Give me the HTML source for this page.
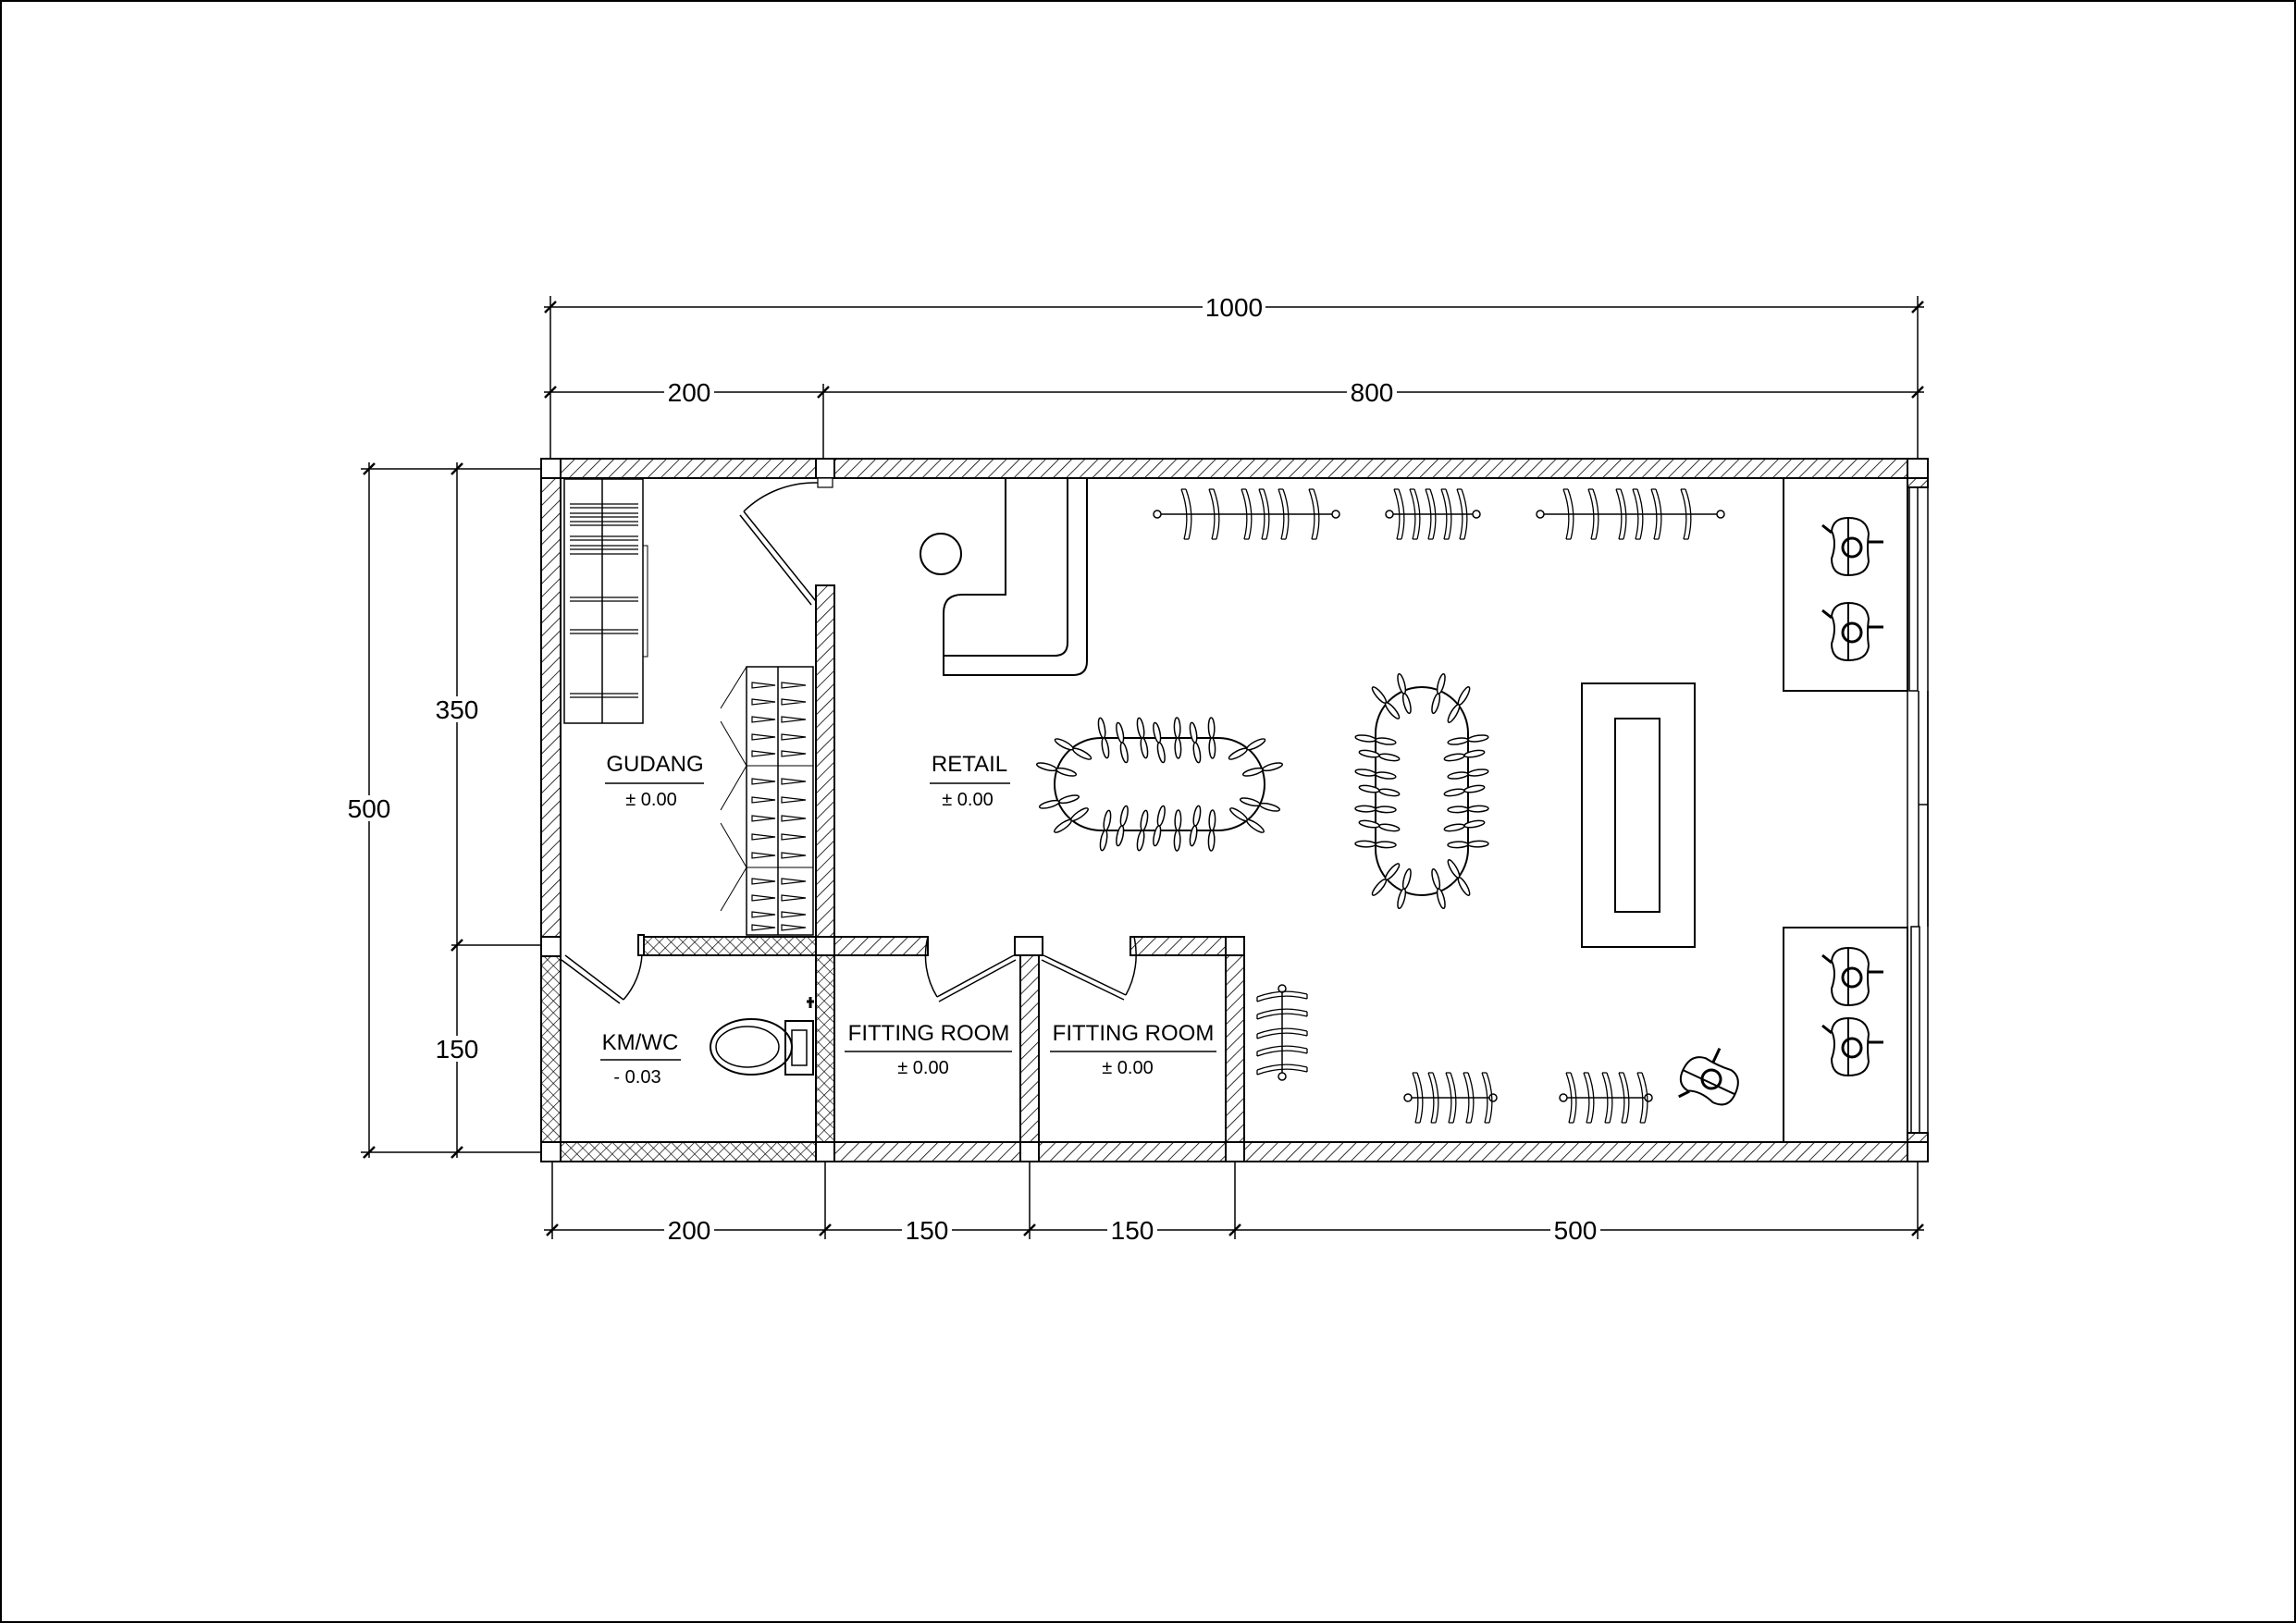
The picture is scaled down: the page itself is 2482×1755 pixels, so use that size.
<!DOCTYPE html>
<html><head><meta charset="utf-8"><style>
html,body{margin:0;padding:0;background:#fff}
svg{display:block}
text{font-family:"Liberation Sans",sans-serif;fill:#000}
</style></head><body>
<svg width="2482" height="1755" viewBox="0 0 2482 1755" xmlns="http://www.w3.org/2000/svg">
<defs>
<pattern id="hat" width="10" height="10" patternUnits="userSpaceOnUse" patternTransform="rotate(45)">
<rect width="10" height="10" fill="#fff"/><line x1="0" y1="0" x2="0" y2="10" stroke="#000" stroke-width="1.6"/></pattern>
<pattern id="cross" width="9" height="9" patternUnits="userSpaceOnUse" patternTransform="rotate(45)">
<rect width="9" height="9" fill="#fff"/><line x1="0" y1="0" x2="0" y2="9" stroke="#000" stroke-width="1.3"/><line x1="0" y1="0" x2="9" y2="0" stroke="#000" stroke-width="1.3"/></pattern>
<g id="hg" fill="none" stroke="#000" stroke-width="1.3"><path d="M-5,-27 Q5,0 -2,27 M0,-27 Q10,0 3,27 M-5,-27 H0 M-2,27 H3"/></g>
<g id="pt" fill="#fff" stroke="#000" stroke-width="1.5"><ellipse cx="-11" cy="0" rx="11" ry="3.2"/><ellipse cx="11" cy="0" rx="11" ry="3.2"/></g>
<g id="mq" fill="none" stroke="#000" stroke-width="2"><path d="M-4,-32 Q16,-32 18,-15 Q16,0 18,15 Q16,30 -4,30 Q-22,30 -22,12 Q-16,-5 -22,-18 Q-20,-32 -4,-32Z"/><circle cx="0" cy="0" r="10" stroke-width="3"/><line x1="-4" y1="-32" x2="-4" y2="30"/><line x1="-32" y1="-24" x2="-22" y2="-16" stroke-width="3"/><line x1="18" y1="-6" x2="34" y2="-6" stroke-width="3"/></g>
</defs>
<rect x="1" y="1" width="2480" height="1753" fill="none" stroke="#000" stroke-width="2"/>

<g stroke="#000" stroke-width="1.5" fill="none">
<line x1="588" y1="332" x2="2080" y2="332"/>
<line x1="588" y1="424" x2="2080" y2="424"/>
<line x1="588" y1="1330" x2="2080" y2="1330"/>
<line x1="399" y1="500" x2="399" y2="1252"/>
<line x1="494" y1="500" x2="494" y2="1252"/>
<line x1="595" y1="320" x2="595" y2="507"/><line x1="890" y1="415" x2="890" y2="507"/><line x1="2073" y1="320" x2="2073" y2="507"/>
<line x1="597" y1="1246" x2="597" y2="1340"/><line x1="892" y1="1246" x2="892" y2="1340"/><line x1="1113" y1="1246" x2="1113" y2="1340"/><line x1="1335" y1="1246" x2="1335" y2="1340"/><line x1="2073" y1="1246" x2="2073" y2="1340"/>
<line x1="390" y1="507" x2="597" y2="507"/><line x1="488" y1="1022" x2="597" y2="1022"/><line x1="390" y1="1246" x2="597" y2="1246"/>
<g stroke-width="2.5">
<path d="M589,338 L601,326 M884,430 L896,418 M2067,338 L2079,326 M589,430 L601,418 M2067,430 L2079,418"/>
<path d="M591,1336 L603,1324 M886,1336 L898,1324 M1107,1336 L1119,1324 M1329,1336 L1341,1324 M2067,1336 L2079,1324"/>
<path d="M393,513 L405,501 M393,1252 L405,1240 M488,513 L500,501 M488,1028 L500,1016 M488,1252 L500,1240"/>
</g>
</g>
<g font-size="28" text-anchor="middle">
<rect x="1300" y="318" width="68" height="28" fill="#fff"/><text x="1334" y="342">1000</text>
<rect x="718" y="410" width="54" height="28" fill="#fff"/><text x="745" y="434">200</text>
<rect x="1456" y="410" width="54" height="28" fill="#fff"/><text x="1483" y="434">800</text>
<rect x="718" y="1316" width="54" height="28" fill="#fff"/><text x="745" y="1340">200</text>
<rect x="975" y="1316" width="54" height="28" fill="#fff"/><text x="1002" y="1340">150</text>
<rect x="1197" y="1316" width="54" height="28" fill="#fff"/><text x="1224" y="1340">150</text>
<rect x="1676" y="1316" width="54" height="28" fill="#fff"/><text x="1703" y="1340">500</text>
<rect x="372" y="860" width="54" height="28" fill="#fff"/><text x="399" y="884">500</text>
<rect x="467" y="753" width="54" height="28" fill="#fff"/><text x="494" y="777">350</text>
<rect x="467" y="1120" width="54" height="28" fill="#fff"/><text x="494" y="1144">150</text>
</g>

<g stroke="#000" stroke-width="2">
<rect x="606" y="496" width="1456" height="21" fill="url(#hat)"/>
<rect x="902" y="1235" width="1160" height="21" fill="url(#hat)"/>
<rect x="606" y="1235" width="276" height="21" fill="url(#cross)"/>
<rect x="585" y="517" width="21" height="496" fill="url(#hat)"/>
<rect x="585" y="1034" width="21" height="201" fill="url(#cross)"/>
<rect x="882" y="633" width="20" height="380" fill="url(#hat)"/>
<rect x="695" y="1013" width="187" height="20" fill="url(#cross)"/>
<rect x="882" y="1033" width="20" height="202" fill="url(#cross)"/>
<rect x="902" y="1013" width="101" height="20" fill="url(#hat)"/>
<rect x="1103" y="1033" width="20" height="202" fill="url(#hat)"/>
<rect x="1222" y="1013" width="103" height="20" fill="url(#hat)"/>
<rect x="1325" y="1033" width="20" height="202" fill="url(#hat)"/>
<g fill="#fff">
<rect x="585" y="496" width="21" height="21"/><rect x="882" y="496" width="20" height="21"/>
<rect x="585" y="1013" width="21" height="21"/><rect x="882" y="1013" width="20" height="20"/>
<rect x="1097" y="1013" width="30" height="20"/><rect x="1325" y="1013" width="20" height="20"/>
<rect x="585" y="1235" width="21" height="21"/><rect x="882" y="1235" width="20" height="21"/>
<rect x="1103" y="1235" width="20" height="21"/><rect x="1325" y="1235" width="20" height="21"/>
<rect x="2062" y="496" width="22" height="21"/><rect x="2062" y="1235" width="22" height="21"/>
</g>
<rect x="2062" y="517" width="22" height="10" fill="url(#hat)"/>
<rect x="2062" y="1225" width="22" height="10" fill="url(#hat)"/>
<rect x="690" y="1011" width="6" height="22" fill="#fff"/>
<rect x="884" y="517" width="16" height="10" fill="#fff" stroke-width="1.2"/>
</g>
<g stroke="#000" stroke-width="1.5" fill="none">
<rect x="2064" y="527" width="9" height="220"/><rect x="2066" y="1002" width="9" height="223"/>
<line x1="2062" y1="747" x2="2062" y2="1002"/><line x1="2074" y1="747" x2="2074" y2="1002"/><line x1="2084" y1="747" x2="2084" y2="1002"/>
<line x1="2074" y1="870" x2="2084" y2="870"/>
<line x1="2084" y1="517" x2="2084" y2="1235"/>
</g>

<g stroke="#000" stroke-width="1.5" fill="none">
<path d="M882,650 L804,553 M877,654 L800,557"/><path d="M804,553 A110,110 0 0 1 884,522"/>
<path d="M611,1033 L674,1081 M607,1038 L670,1085"/><path d="M674,1081 A80,80 0 0 0 694,1032"/>
<path d="M1096,1033 L1013,1078 M1098,1038 L1015,1083"/><path d="M1013,1078 A85,85 0 0 1 1003,1013"/>
<path d="M1128,1033 L1217,1076 M1126,1038 L1215,1081"/><path d="M1217,1076 A90,90 0 0 0 1226,1013"/>
<rect x="610" y="518" width="85" height="264"/><line x1="651" y1="518" x2="651" y2="782"/>
<rect x="695" y="590" width="5" height="120" stroke-width="1"/>
<g stroke-width="1.2">
<path d="M616,545 H690 M616,549 H690 M616,555 H690 M616,559 H690 M616,564 H690 M616,568 H690 M616,580 H690 M616,584 H690 M616,590 H690 M616,594 H690 M616,599 H690 M616,646 H690 M616,650 H690 M616,681 H690 M616,685 H690 M616,750 H690 M616,754 H690"/>
</g>
<rect x="807" y="721" width="72" height="290"/><line x1="841" y1="721" x2="841" y2="1011"/>
<line x1="807" y1="828" x2="879" y2="828" stroke-width="1"/><line x1="807" y1="938" x2="879" y2="938" stroke-width="1"/>
<path d="M807,721 L779,766 M779,780 L807,828 L779,876 M779,890 L807,938 L779,985" stroke-width="1"/>
<g stroke-width="1.2">
<path d="M813,738 L838,741 L813,744Z M845,738 L871,741 L845,744Z M813,756 L838,759 L813,762Z M845,756 L871,759 L845,762Z M813,775 L838,778 L813,781Z M845,775 L871,778 L845,781Z M813,794 L838,797 L813,800Z M845,794 L871,797 L845,800Z M813,812 L838,815 L813,818Z M845,812 L871,815 L845,818Z M813,842 L838,845 L813,848Z M845,842 L871,845 L845,848Z M813,862 L838,865 L813,868Z M845,862 L871,865 L845,868Z M813,882 L838,885 L813,888Z M845,882 L871,885 L845,888Z M813,902 L838,905 L813,908Z M845,902 L871,905 L845,908Z M813,922 L838,925 L813,928Z M845,922 L871,925 L845,928Z M813,950 L838,953 L813,956Z M845,950 L871,953 L845,956Z M813,968 L838,971 L813,974Z M845,968 L871,971 L845,974Z M813,986 L838,989 L813,992Z M845,986 L871,989 L845,992Z M813,1000 L838,1003 L813,1006Z M845,1000 L871,1003 L845,1006Z"/>
</g>
<path d="M1087,517 V643 H1040 Q1020,643 1020,663 V730 H1160 Q1175,730 1175,715 V517" stroke-width="2"/>
<path d="M1020,709 H1140 Q1154,709 1154,695 V517" stroke-width="2"/>
<circle cx="1017" cy="599" r="22" stroke-width="2"/>
<ellipse cx="812" cy="1132" rx="44" ry="30" stroke-width="2"/><ellipse cx="808" cy="1132" rx="34" ry="22"/>
<rect x="849" y="1104" width="30" height="58" stroke-width="2"/><rect x="856" y="1114" width="16" height="38"/>
<path d="M872,1083 L880,1083 M876,1078 V1090" stroke-width="3"/>
<rect x="1710" y="739" width="122" height="285" stroke-width="2"/><rect x="1746" y="777" width="48" height="209" stroke-width="2"/>
<rect x="1928" y="517" width="134" height="230" stroke-width="2"/><rect x="1928" y="1003" width="134" height="232" stroke-width="2"/>
<rect x="1140" y="798" width="227" height="100" rx="50" stroke-width="2"/>
<rect x="1487" y="743" width="100" height="225" rx="50" stroke-width="2"/>
<line x1="1251" y1="556" x2="1444" y2="556"/><circle cx="1251" cy="556" r="4" fill="#fff"/><circle cx="1444" cy="556" r="4" fill="#fff"/>
<line x1="1502" y1="556" x2="1596" y2="556"/><circle cx="1502" cy="556" r="4" fill="#fff"/><circle cx="1596" cy="556" r="4" fill="#fff"/>
<line x1="1665" y1="556" x2="1860" y2="556"/><circle cx="1665" cy="556" r="4" fill="#fff"/><circle cx="1860" cy="556" r="4" fill="#fff"/>
<line x1="1522" y1="1187" x2="1614" y2="1187"/><circle cx="1522" cy="1187" r="4" fill="#fff"/><circle cx="1614" cy="1187" r="4" fill="#fff"/>
<line x1="1690" y1="1187" x2="1782" y2="1187"/><circle cx="1690" cy="1187" r="4" fill="#fff"/><circle cx="1782" cy="1187" r="4" fill="#fff"/>
<line x1="1386" y1="1069" x2="1386" y2="1164"/><circle cx="1386" cy="1069" r="4" fill="#fff"/><circle cx="1386" cy="1164" r="4" fill="#fff"/>
</g>
<use href="#hg" x="1282" y="556"/><use href="#hg" x="1312" y="556"/><use href="#hg" x="1347" y="556"/><use href="#hg" x="1366" y="556"/><use href="#hg" x="1387" y="556"/><use href="#hg" x="1420" y="556"/>
<use href="#hg" x="1512" y="556"/><use href="#hg" x="1529" y="556"/><use href="#hg" x="1546" y="556"/><use href="#hg" x="1563" y="556"/><use href="#hg" x="1580" y="556"/>
<use href="#hg" x="1695" y="556"/><use href="#hg" x="1722" y="556"/><use href="#hg" x="1752" y="556"/><use href="#hg" x="1770" y="556"/><use href="#hg" x="1790" y="556"/><use href="#hg" x="1822" y="556"/>
<use href="#hg" x="1532" y="1187"/><use href="#hg" x="1549" y="1187"/><use href="#hg" x="1568" y="1187"/><use href="#hg" x="1587" y="1187"/><use href="#hg" x="1607" y="1187"/>
<use href="#hg" x="1698" y="1187"/><use href="#hg" x="1717" y="1187"/><use href="#hg" x="1737" y="1187"/><use href="#hg" x="1755" y="1187"/><use href="#hg" x="1775" y="1187"/>
<g transform="translate(1386,0)">
<use href="#hg" transform="translate(0,1078) rotate(-90)"/><use href="#hg" transform="translate(0,1097) rotate(-90)"/><use href="#hg" transform="translate(0,1118) rotate(-90)"/><use href="#hg" transform="translate(0,1137) rotate(-90)"/><use href="#hg" transform="translate(0,1157) rotate(-90)"/>
</g>
<use href="#pt" transform="translate(1193,798) rotate(80)"/><use href="#pt" transform="translate(1213,803) rotate(78)"/><use href="#pt" transform="translate(1235,798) rotate(80)"/><use href="#pt" transform="translate(1253,803) rotate(78)"/><use href="#pt" transform="translate(1273,798) rotate(88)"/><use href="#pt" transform="translate(1292,803) rotate(80)"/><use href="#pt" transform="translate(1310,798) rotate(88)"/>
<use href="#pt" transform="translate(1195,898) rotate(100)"/><use href="#pt" transform="translate(1213,893) rotate(102)"/><use href="#pt" transform="translate(1235,898) rotate(100)"/><use href="#pt" transform="translate(1253,893) rotate(102)"/><use href="#pt" transform="translate(1273,898) rotate(92)"/><use href="#pt" transform="translate(1292,893) rotate(100)"/><use href="#pt" transform="translate(1310,898) rotate(92)"/>
<use href="#pt" transform="translate(1160,810) rotate(28)"/><use href="#pt" transform="translate(1142,832) rotate(15)"/><use href="#pt" transform="translate(1145,867) rotate(-15)"/><use href="#pt" transform="translate(1158,887) rotate(-35)"/>
<use href="#pt" transform="translate(1348,810) rotate(-28)"/><use href="#pt" transform="translate(1365,832) rotate(-15)"/><use href="#pt" transform="translate(1362,870) rotate(15)"/><use href="#pt" transform="translate(1348,887) rotate(35)"/>
<use href="#pt" transform="translate(1487,800) rotate(8)"/><use href="#pt" transform="translate(1491,817) rotate(10)"/><use href="#pt" transform="translate(1487,837) rotate(8)"/><use href="#pt" transform="translate(1491,855) rotate(10)"/><use href="#pt" transform="translate(1487,875) rotate(2)"/><use href="#pt" transform="translate(1491,893) rotate(10)"/><use href="#pt" transform="translate(1487,913) rotate(2)"/>
<use href="#pt" transform="translate(1587,800) rotate(-8)"/><use href="#pt" transform="translate(1583,817) rotate(-10)"/><use href="#pt" transform="translate(1587,837) rotate(-8)"/><use href="#pt" transform="translate(1583,855) rotate(-10)"/><use href="#pt" transform="translate(1587,875) rotate(-2)"/><use href="#pt" transform="translate(1583,893) rotate(-10)"/><use href="#pt" transform="translate(1587,913) rotate(-2)"/>
<use href="#pt" transform="translate(1498,760) rotate(50)"/><use href="#pt" transform="translate(1518,750) rotate(75)"/><use href="#pt" transform="translate(1555,750) rotate(-75)"/><use href="#pt" transform="translate(1577,762) rotate(-60)"/>
<use href="#pt" transform="translate(1498,951) rotate(-50)"/><use href="#pt" transform="translate(1518,961) rotate(-75)"/><use href="#pt" transform="translate(1555,961) rotate(75)"/><use href="#pt" transform="translate(1577,949) rotate(60)"/>
<use href="#mq" x="2002" y="592"/><use href="#mq" x="2002" y="684"/><use href="#mq" x="2002" y="1057"/><use href="#mq" x="2002" y="1133"/>
<use href="#mq" transform="translate(1850,1167) rotate(-65)"/>

<g text-anchor="middle">
<text x="708" y="834" font-size="24">GUDANG</text><line x1="654" y1="847" x2="761" y2="847" stroke="#000" stroke-width="1.5"/><text x="704" y="871" font-size="20">± 0.00</text>
<text x="1048" y="834" font-size="24">RETAIL</text><line x1="1005" y1="847" x2="1092" y2="847" stroke="#000" stroke-width="1.5"/><text x="1046" y="871" font-size="20">± 0.00</text>
<text x="692" y="1135" font-size="24">KM/WC</text><line x1="649" y1="1146" x2="736" y2="1146" stroke="#000" stroke-width="1.5"/><text x="689" y="1171" font-size="20">- 0.03</text>
<text x="1004" y="1125" font-size="24">FITTING ROOM</text><line x1="913" y1="1137" x2="1094" y2="1137" stroke="#000" stroke-width="1.5"/><text x="998" y="1161" font-size="20">± 0.00</text>
<text x="1225" y="1125" font-size="24">FITTING ROOM</text><line x1="1135" y1="1137" x2="1315" y2="1137" stroke="#000" stroke-width="1.5"/><text x="1219" y="1161" font-size="20">± 0.00</text>
</g>
</svg>
</body></html>
